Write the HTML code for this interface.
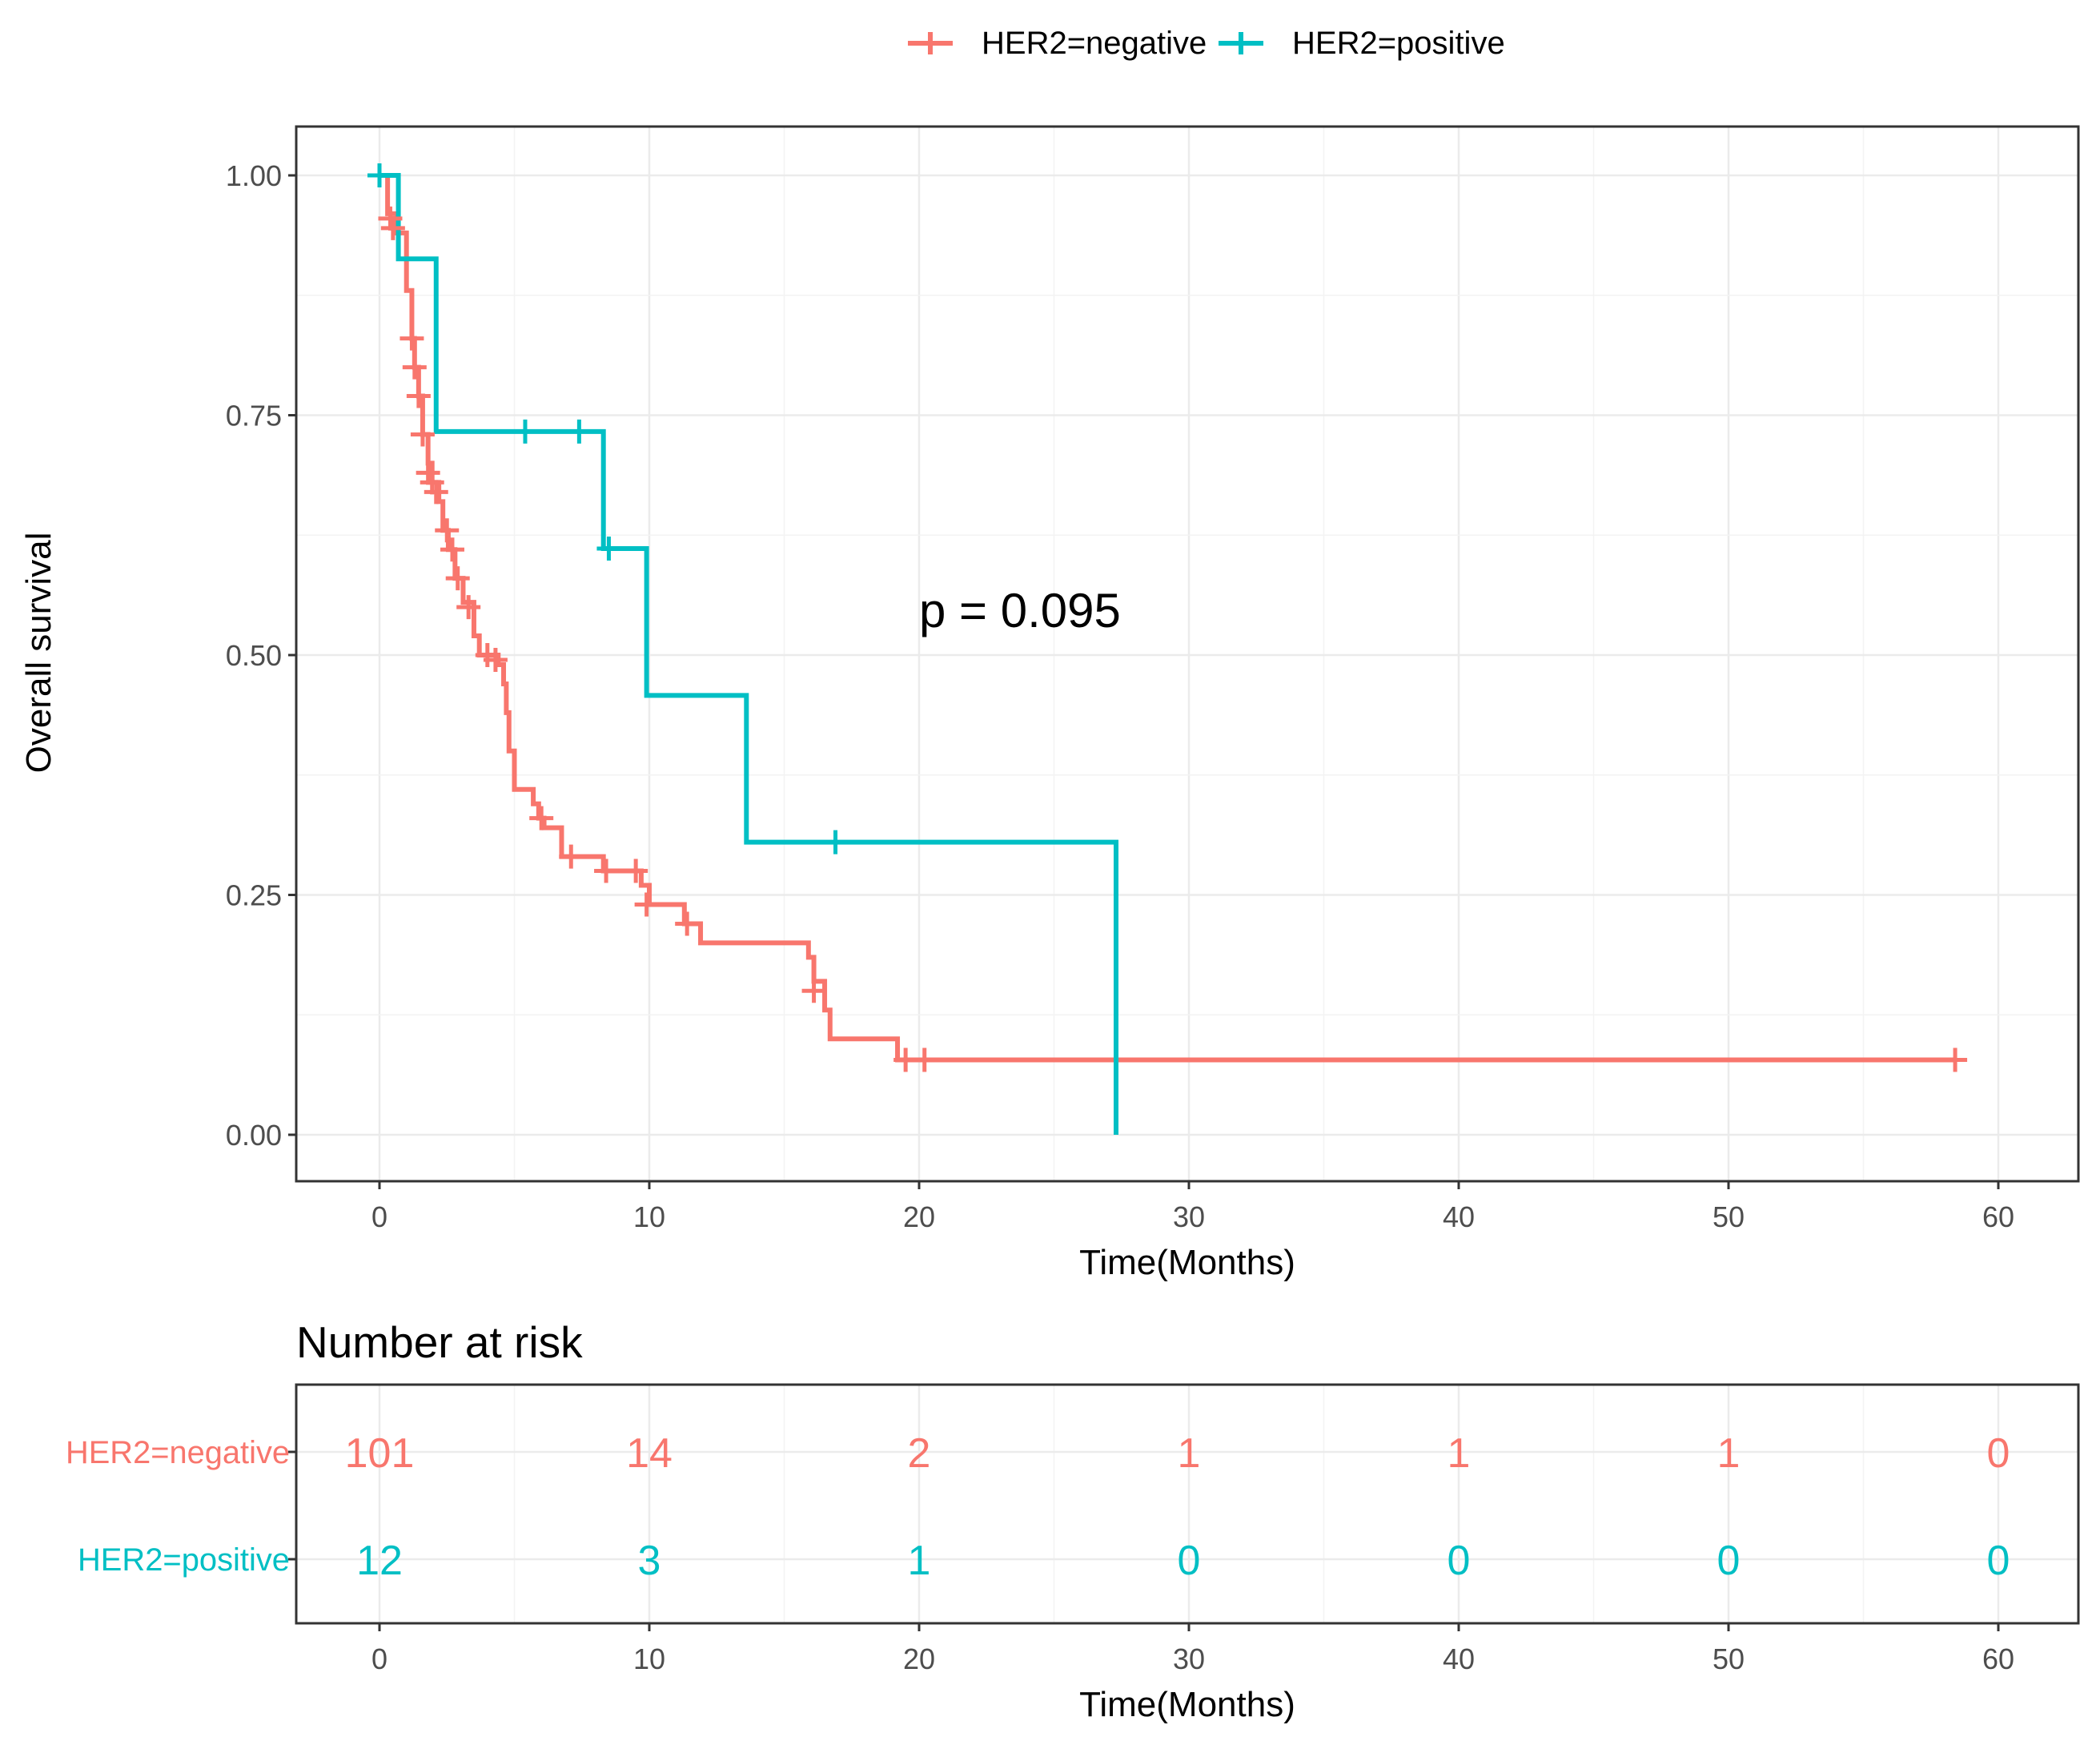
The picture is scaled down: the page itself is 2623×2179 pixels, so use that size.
<!DOCTYPE html>
<html><head><meta charset="utf-8"><style>
html,body{margin:0;padding:0;background:#fff;}
svg{display:block;font-family:"Liberation Sans",sans-serif;}
</style></head><body>
<svg id="chart" width="2623" height="2179" viewBox="0 0 2623 2179" xmlns="http://www.w3.org/2000/svg">
<rect width="2623" height="2179" fill="#fff"/>
<g id="legend"></g>
<g id="main"></g>
<g id="risk"></g>
</svg>
<script>
// ---- data ----
const xTicks = [0, 10, 20, 30, 40, 50, 60];
const yTicks = [0, 0.25, 0.5, 0.75, 1.0];
const yTickLabels = ["0.00", "0.25", "0.50", "0.75", "1.00"];
const negTimes = [0, 0.3, 0.65, 1.0, 1.2, 1.3, 1.45, 1.6, 1.8, 1.95, 2.2, 2.35, 2.55, 2.8, 3.1, 3.5, 3.7, 4.4, 4.6, 4.7, 4.8, 5.0, 5.7, 5.9, 6.1, 6.75, 8.3, 9.7, 10.0, 11.3, 11.9, 15.9, 16.1, 16.5, 16.7, 19.2];
const negSurv  = [1.0, 0.96, 0.94, 0.88, 0.83, 0.80, 0.77, 0.73, 0.70, 0.68, 0.66, 0.63, 0.61, 0.58, 0.555, 0.52, 0.50, 0.49, 0.47, 0.44, 0.40, 0.36, 0.345, 0.33, 0.32, 0.29, 0.275, 0.26, 0.24, 0.22, 0.20, 0.185, 0.16, 0.13, 0.10, 0.078];
const negEnd = 58.4;
const negCensT = [0.4, 0.5, 1.2, 1.3, 1.45, 1.6, 1.8, 1.95, 2.1, 2.5, 2.7, 2.9, 3.3, 4.0, 4.3, 6.0, 7.1, 8.4, 9.5, 9.9, 11.4, 16.1, 19.5, 20.2, 58.4];
const negCensS = [0.955, 0.945, 0.83, 0.80, 0.77, 0.73, 0.69, 0.68, 0.67, 0.63, 0.61, 0.58, 0.55, 0.50, 0.495, 0.33, 0.29, 0.275, 0.275, 0.24, 0.22, 0.15, 0.078, 0.078, 0.078];
const posTimes = [0, 0.7, 2.1, 8.3, 9.9, 13.6, 27.3];
const posSurv  = [1.0, 0.913, 0.733, 0.611, 0.458, 0.305, 0.0];
const posEnd = 27.3;
const posCensT = [0, 5.4, 7.4, 8.5, 16.9];
const posCensS = [1.0, 0.733, 0.733, 0.611, 0.305];
const riskNeg = [101, 14, 2, 1, 1, 1, 0];
const riskPos = [12, 3, 1, 0, 0, 0, 0];
const pLabel = "p = 0.095";

// ---- layout ----
const NS = "http://www.w3.org/2000/svg";
const RED = "#F8766D", TEAL = "#00BFC4";
const PL = 370, PR = 2596, PT = 158, PB = 1475;
const X = t => 474 + t * 33.7;
const Y = s => 1417 - s * 1198;
const RT = 1729, RB = 2027, ROW1 = 1813, ROW2 = 1947;

function mk(tag, attrs, parent, text) {
  const e = document.createElementNS(NS, tag);
  for (const k in attrs) e.setAttribute(k, attrs[k]);
  if (text !== undefined) e.textContent = text;
  parent.appendChild(e);
  return e;
}
const main = document.getElementById('main');
const risk = document.getElementById('risk');
const legend = document.getElementById('legend');

// main grid
for (let v = -5; v <= 65; v += 5) {
  const x = X(v); if (x <= PL || x >= PR) continue;
  const major = v % 10 === 0;
  const l = mk('line', {x1:x, x2:x, y1:PT, y2:PB, stroke: major ? '#EBEBEB' : '#F3F3F3', 'stroke-width': major ? 2.5 : 1.5}, main);
  
  
}
for (let s = -0.125; s <= 1.125; s += 0.125) {
  const y = Y(s); if (y <= PT || y >= PB) continue;
  const major = Math.abs(s / 0.25 - Math.round(s / 0.25)) < 1e-6;
  const l = mk('line', {x1:PL, x2:PR, y1:y, y2:y, stroke: major ? '#EBEBEB' : '#F3F3F3', 'stroke-width': major ? 2.5 : 1.5}, main);
  
  
}

function stepPath(times, surv, end) {
  let d = `M${X(times[0])},${Y(surv[0])}`;
  for (let i = 1; i < times.length; i++) {
    d += ` H${X(times[i])} V${Y(surv[i])}`;
  }
  d += ` H${X(end)}`;
  return d;
}
const pNeg = mk('path', {d: stepPath(negTimes, negSurv, negEnd), fill:'none', stroke:RED, 'stroke-width':6}, main);


const pPos = mk('path', {d: stepPath(posTimes, posSurv, posEnd), fill:'none', stroke:TEAL, 'stroke-width':6}, main);



function censor(t, s, col, name) {
  const g = mk('path', {d:`M${X(t)-15},${Y(s)} h30 M${X(t)},${Y(s)-15} v30`, stroke:col, 'stroke-width':5, fill:'none'}, main);
  
  
}
negCensT.forEach((t, i) => censor(t, negCensS[i], RED, 'censor-mark-negative'));
posCensT.forEach((t, i) => censor(t, posCensS[i], TEAL, 'censor-mark-positive'));

const frame = mk('rect', {x:PL, y:PT, width:PR-PL, height:PB-PT, fill:'none', stroke:'#333', 'stroke-width':3}, main);



// y axis
yTicks.forEach((v, i) => {
  const tk = mk('line', {x1:PL-10, x2:PL, y1:Y(v), y2:Y(v), stroke:'#333', 'stroke-width':3}, main);
  
  
  const t = mk('text', {x:PL-18, y:Y(v)+13, 'text-anchor':'end', 'font-size':36, fill:'#4D4D4D'}, main, yTickLabels[i]);
  
  
});
// x axis
xTicks.forEach(v => {
  const tk = mk('line', {x1:X(v), x2:X(v), y1:PB, y2:PB+10, stroke:'#333', 'stroke-width':3}, main);
  
  
  const t = mk('text', {x:X(v), y:1532, 'text-anchor':'middle', 'font-size':36, fill:'#4D4D4D'}, main, String(v));
  
  
});
const xt = mk('text', {x:1483, y:1591, 'text-anchor':'middle', 'font-size':44, fill:'#000'}, main, 'Time(Months)');


const yt = mk('text', {x:0, y:0, transform:'translate(63,815) rotate(-90)', 'text-anchor':'middle', 'font-size':44, fill:'#000'}, main, 'Overall survival');


const pv = mk('text', {x:1148, y:783, 'font-size':60, fill:'#000'}, main, pLabel);



// legend
function legItem(x0, col, label, name) {
  const g = mk('g', {}, legend);
  
  
  mk('path', {d:`M${x0},54 h56 M${x0+28},40 v28`, stroke:col, 'stroke-width':6, fill:'none'}, g);
  mk('text', {x:x0+92, y:67, 'font-size':40, fill:'#000'}, g, label);
}
legItem(1134, RED, 'HER2=negative', 'legend-entry-negative');
legItem(1522, TEAL, 'HER2=positive', 'legend-entry-positive');

// risk table
const rtitle = mk('text', {x:370, y:1695, 'font-size':55, fill:'#000'}, risk, 'Number at risk');


for (let v = -5; v <= 65; v += 5) {
  const x = X(v); if (x <= PL || x >= PR) continue;
  const major = v % 10 === 0;
  const l = mk('line', {x1:x, x2:x, y1:RT, y2:RB, stroke: major ? '#EBEBEB' : '#F3F3F3', 'stroke-width': major ? 2.5 : 1.5}, risk);
  
  
}
[ROW1, ROW2].forEach(y => {
  const l = mk('line', {x1:PL, x2:PR, y1:y, y2:y, stroke:'#EBEBEB', 'stroke-width':2.5}, risk);
  
  
  const tk = mk('line', {x1:PL-10, x2:PL, y1:y, y2:y, stroke:'#333', 'stroke-width':3}, risk);
  
  
});
const rf = mk('rect', {x:PL, y:RT, width:PR-PL, height:RB-RT, fill:'none', stroke:'#333', 'stroke-width':3}, risk);


const l1 = mk('text', {x:362, y:1827, 'text-anchor':'end', 'font-size':40, fill:RED, textLength:280, lengthAdjust:'spacingAndGlyphs'}, risk, 'HER2=negative');


const l2 = mk('text', {x:362, y:1961, 'text-anchor':'end', 'font-size':40, fill:TEAL, textLength:265, lengthAdjust:'spacingAndGlyphs'}, risk, 'HER2=positive');


xTicks.forEach((v, i) => {
  const a = mk('text', {x:X(v), y:ROW1+19, 'text-anchor':'middle', 'font-size':52, fill:RED}, risk, String(riskNeg[i]));
  
  
  const b = mk('text', {x:X(v), y:ROW2+19, 'text-anchor':'middle', 'font-size':52, fill:TEAL}, risk, String(riskPos[i]));
  
  
  const tk = mk('line', {x1:X(v), x2:X(v), y1:RB, y2:RB+10, stroke:'#333', 'stroke-width':3}, risk);
  
  
  const t = mk('text', {x:X(v), y:2084, 'text-anchor':'middle', 'font-size':36, fill:'#4D4D4D'}, risk, String(v));
  
  
});
const rxt = mk('text', {x:1483, y:2143, 'text-anchor':'middle', 'font-size':44, fill:'#000'}, risk, 'Time(Months)');


</script>
</body></html>
